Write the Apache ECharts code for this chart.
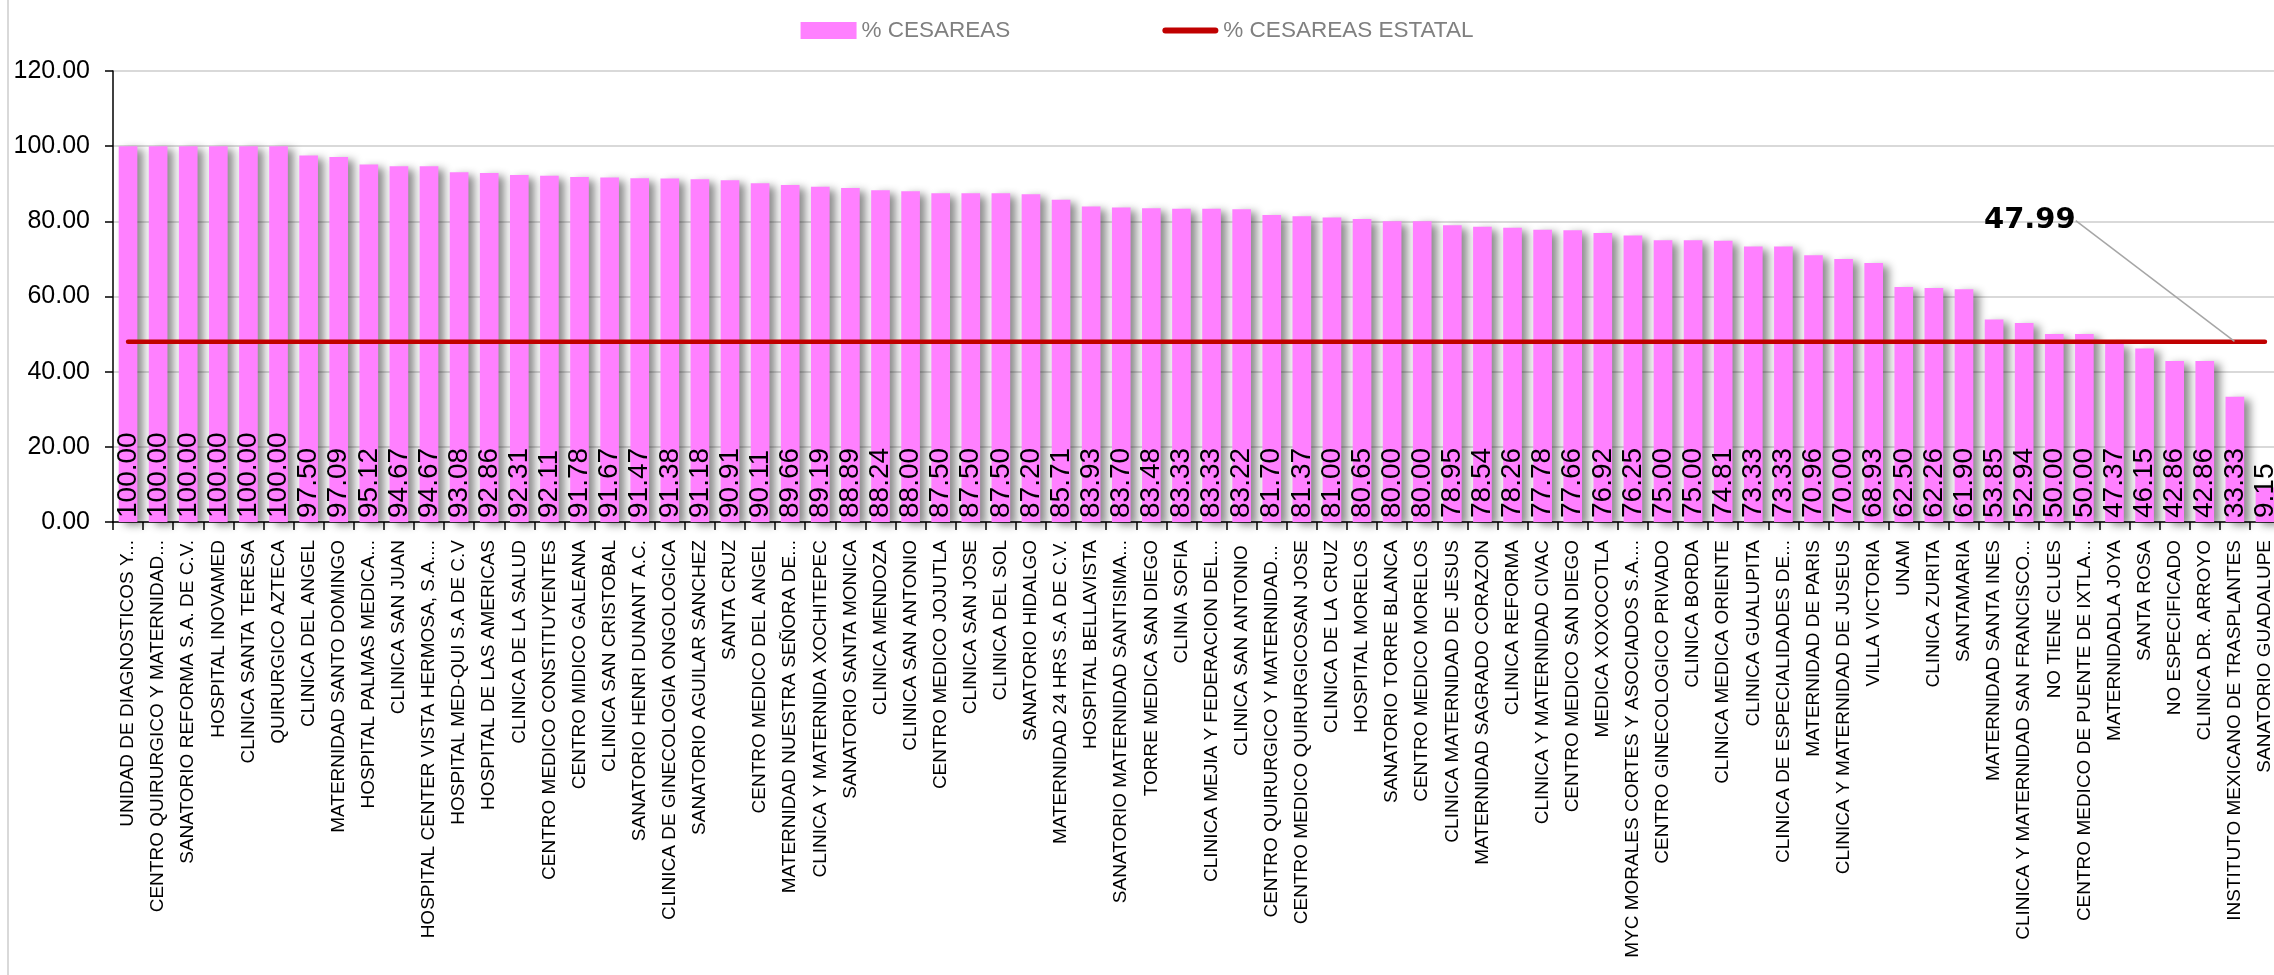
<!DOCTYPE html>
<html>
<head>
<meta charset="utf-8">
<script src="https://cdn.jsdelivr.net/npm/echarts@6/dist/echarts.min.js"></script>
<style>
  html, body { margin: 0; padding: 0; background: #fff; }
  #chart { width: 2274px; height: 975px; }
</style>
</head>
<body>
<div id="chart"></div>
<script>
var categories = [
  'UNIDAD DE DIAGNOSTICOS Y...', 'CENTRO QUIRURGICO Y MATERNIDAD...', 'SANATORIO REFORMA S.A. DE C.V.',
  'HOSPITAL INOVAMED', 'CLINICA SANTA TERESA', 'QUIRURGICO AZTECA', 'CLINICA DEL ANGEL',
  'MATERNIDAD SANTO DOMINGO', 'HOSPITAL PALMAS MEDICA...', 'CLINICA SAN JUAN',
  'HOSPITAL CENTER VISTA HERMOSA, S.A....', 'HOSPITAL MED-QUI S.A DE C.V', 'HOSPITAL DE LAS AMERICAS',
  'CLINICA DE LA SALUD', 'CENTRO MEDICO CONSTITUYENTES', 'CENTRO MIDICO GALEANA',
  'CLINICA SAN CRISTOBAL', 'SANATORIO HENRI DUNANT A.C.', 'CLINICA DE GINECOLOGIA ONGOLOGICA',
  'SANATORIO AGUILAR SANCHEZ', 'SANTA CRUZ', 'CENTRO MEDICO DEL ANGEL',
  'MATERNIDAD NUESTRA SEÑORA DE...', 'CLINICA Y MATERNIDA XOCHITEPEC', 'SANATORIO SANTA MONICA',
  'CLINICA MENDOZA', 'CLINICA SAN ANTONIO', 'CENTRO MEDICO JOJUTLA', 'CLINICA SAN JOSE',
  'CLINICA DEL SOL', 'SANATORIO HIDALGO', 'MATERNIDAD 24 HRS S.A DE C.V.', 'HOSPITAL BELLAVISTA',
  'SANATORIO MATERNIDAD SANTISIMA...', 'TORRE MEDICA SAN DIEGO', 'CLINIA SOFIA',
  'CLINICA MEJIA Y FEDERACION DEL...', 'CLINICA SAN ANTONIO ', 'CENTRO QUIRURGICO Y MATERNIDAD... ',
  'CENTRO MEDICO QUIRURGICOSAN JOSE', 'CLINICA DE LA CRUZ', 'HOSPITAL MORELOS',
  'SANATORIO TORRE BLANCA', 'CENTRO MEDICO MORELOS', 'CLINICA MATERNIDAD DE JESUS',
  'MATERNIDAD SAGRADO CORAZON', 'CLINICA REFORMA', 'CLINICA Y MATERNIDAD CIVAC',
  'CENTRO MEDICO SAN DIEGO', 'MEDICA XOXOCOTLA', 'MYC MORALES CORTES Y ASOCIADOS S.A....',
  'CENTRO GINECOLOGICO PRIVADO', 'CLINICA BORDA', 'CLINICA MEDICA ORIENTE', 'CLINICA GUALUPITA',
  'CLINICA DE ESPECIALIDADES DE...', 'MATERNIDAD DE PARIS', 'CLINICA Y MATERNIDAD DE JUSEUS',
  'VILLA VICTORIA', 'UNAM', 'CLINICA ZURITA', 'SANTAMARIA', 'MATERNIDAD SANTA INES',
  'CLINICA Y MATERNIDAD SAN FRANCISCO...', 'NO TIENE CLUES', 'CENTRO MEDICO DE PUENTE DE IXTLA...',
  'MATERNIDADLA JOYA', 'SANTA ROSA', 'NO ESPECIFICADO', 'CLINICA DR. ARROYO',
  'INSTITUTO MEXICANO DE TRASPLANTES', 'SANATORIO GUADALUPE'
];

var cesareas = [
  100.00, 100.00, 100.00, 100.00, 100.00, 100.00, 97.50, 97.09, 95.12, 94.67,
  94.67, 93.08, 92.86, 92.31, 92.11, 91.78, 91.67, 91.47, 91.38, 91.18,
  90.91, 90.11, 89.66, 89.19, 88.89, 88.24, 88.00, 87.50, 87.50, 87.50,
  87.20, 85.71, 83.93, 83.70, 83.48, 83.33, 83.33, 83.22, 81.70, 81.37,
  81.00, 80.65, 80.00, 80.00, 78.95, 78.54, 78.26, 77.78, 77.66, 76.92,
  76.25, 75.00, 75.00, 74.81, 73.33, 73.33, 70.96, 70.00, 68.93, 62.50,
  62.26, 61.90, 53.85, 52.94, 50.00, 50.00, 47.37, 46.15, 42.86, 42.86,
  33.33, 9.15
];

// tasa estatal (una sola cifra, dibujada como linea horizontal)
var ESTATAL = 47.99;
var LABEL_AT = 70;

var yMin = 0, yMax = 120, yStep = 20;

var FONT = "'Liberation Sans', Arial, sans-serif";

var estatalData = categories.map(function (c, i) {
  if (i === LABEL_AT) {
    // solo este punto lleva simbolo (transparente) para colgar la etiqueta
    return {
      value: ESTATAL,
      symbol: 'circle',
      symbolSize: 1,
      itemStyle: { color: 'rgba(0,0,0,0)' },
      label: { show: true }
    };
  }
  return ESTATAL;
});

var chart = echarts.init(document.getElementById('chart'));

var option = {
  backgroundColor: '#fff',
  animation: false,
  textStyle: { fontFamily: FONT },
  graphic: [{
    type: 'line',
    shape: { x1: 8, y1: 0, x2: 8, y2: 975 },
    style: { stroke: '#d9d9d9', lineWidth: 2 }
  }],
  legend: {
    top: 14,
    left: 'center',
    itemWidth: 56,
    itemHeight: 17,
    itemGap: 152,
    textStyle: { color: '#808080', fontSize: 22.5, fontFamily: FONT },
    data: [
      { name: '% CESAREAS', icon: 'rect' },
      {
        name: '% CESAREAS ESTATAL',
        icon: 'path://M3,0 L53,0 A3,3 0 0 1 53,6 L3,6 A3,3 0 0 1 3,0 Z',
        itemStyle: { color: '#C00000' }
      }
    ]
  },
  grid: {
    left: 113,
    right: -6,
    top: 71,
    bottom: 453,
    containLabel: false,
    outerBoundsMode: 'none'
  },
  xAxis: {
    type: 'category',
    data: categories,
    boundaryGap: true,
    axisLine: { lineStyle: { color: '#000', width: 1.5 } },
    axisTick: { show: true, length: 8, lineStyle: { color: '#000', width: 1.5 } },
    axisLabel: {
      interval: 0,
      rotate: 90,
      margin: 18,
      color: '#000',
      fontSize: 19,
      fontFamily: FONT
    },
    splitLine: { show: false }
  },
  yAxis: {
    type: 'value',
    min: yMin,
    max: yMax,
    interval: yStep,
    axisLine: { show: true, lineStyle: { color: '#000', width: 1.5 } },
    axisTick: { show: true, length: 8, lineStyle: { color: '#000', width: 1.5 } },
    axisLabel: {
      margin: 23,
      color: '#000',
      fontSize: 25,
      fontFamily: FONT,
      formatter: function (v) { return v.toFixed(2); }
    },
    splitLine: { show: true, lineStyle: { color: '#d9d9d9', width: 2 } }
  },
  series: [
    {
      name: '% CESAREAS',
      type: 'bar',
      barWidth: '62%',
      itemStyle: {
        color: '#FF80FF',
        shadowColor: 'rgba(0,0,0,0.45)',
        shadowBlur: 8,
        shadowOffsetX: 6,
        shadowOffsetY: 3
      },
      label: {
        show: true,
        position: 'insideBottom',
        rotate: 90,
        align: 'left',
        verticalAlign: 'middle',
        distance: 4,
        color: '#000',
        fontSize: 28,
        fontFamily: FONT,
        formatter: function (p) { return p.value.toFixed(2); }
      },
      data: cesareas
    },
    {
      name: '% CESAREAS ESTATAL',
      type: 'line',
      symbol: 'none',
      showSymbol: true,
      z: 5,
      lineStyle: { color: '#C00000', width: 4.5, cap: 'round' },
      itemStyle: { color: '#C00000' },
      label: {
        show: false,
        position: 'top',
        color: '#000',
        fontSize: 29,
        fontWeight: 'bold',
        fontFamily: "'DejaVu Sans', Verdana, sans-serif",
        formatter: function (p) { return p.value.toFixed(2); }
      },
      labelLine: {
        show: true,
        lineStyle: { color: '#a6a6a6', width: 1.5 }
      },
      labelLayout: function (p) {
        if (p.dataIndex === LABEL_AT) {
          return { dx: -205, dy: -101 };
        }
        return {};
      },
      data: estatalData
    }
  ]
};

chart.setOption(option);
</script>
</body>
</html>
